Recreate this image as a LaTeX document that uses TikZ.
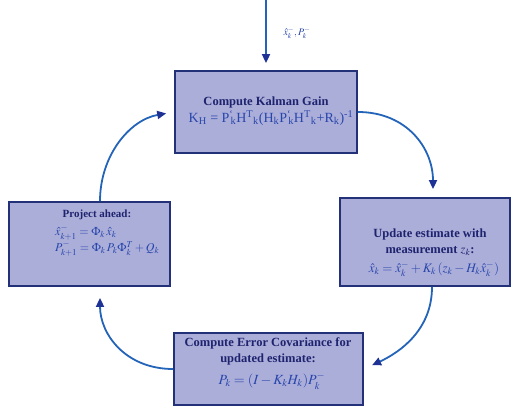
\documentclass[tikz,border=0pt]{standalone}
\usepackage{mathptmx}
\usepackage{fontspec}
\setmainfont{Liberation Serif}
\usetikzlibrary{arrows.meta}
\definecolor{boxfill}{RGB}{172,174,218}
\definecolor{boxline}{RGB}{35,50,120}
\definecolor{titlecol}{RGB}{30,35,110}
\definecolor{formcol}{RGB}{40,70,170}
\definecolor{arrcol}{RGB}{35,100,185}
\definecolor{tipcol}{RGB}{30,50,150}
\tikzset{
  stagebox/.style={draw=boxline, fill=boxfill, line width=1.8pt, inner sep=0pt},
  txt/.style={inner sep=0pt, align=center, text=titlecol, font=\fontsize{12.5}{16}\selectfont\bfseries},
  frm/.style={inner sep=0pt, text=formcol, font=\fontsize{12}{14}\selectfont},
  flow/.style={draw=arrcol, line width=1.8pt, -{Triangle[length=9pt,width=8pt,fill=tipcol,color=tipcol]}, shorten >=7pt}
}
\begin{document}
\begin{tikzpicture}[x=1pt,y=-1pt]
\useasboundingbox (0,0) rectangle (513,410);
% boxes
\node[stagebox, minimum width=182pt, minimum height=82pt] (top) at (266,112) {};
\node[stagebox, minimum width=161pt, minimum height=84pt] (left) at (89.5,244) {};
\node[stagebox, minimum width=170pt, minimum height=88pt] (right) at (425,242) {};
\node[stagebox, minimum width=189pt, minimum height=72pt] (bottom) at (268.5,369) {};
% top text
\node[txt] (toptitle) at (266,102) {Compute Kalman Gain};
\node[frm, font=\fontsize{14}{16}\selectfont] (topform) at (271,118) {K\textsubscript{H} = P\textsuperscript{`}\kern-0.2em\textsubscript{k}H\textsuperscript{T}\textsubscript{k}(H\textsubscript{k}P\textsuperscript{`}\kern-0.2em\textsubscript{k}H\textsuperscript{T}\textsubscript{k}+R\textsubscript{k})\textsuperscript{-1}};
% left text
\node[txt, font=\fontsize{11}{13}\selectfont\bfseries] (lefttitle) at (97,215) {Project ahead:};
\node[frm, anchor=west] (leftf1) at (55,233) {$\hat{x}^-_{k+1} = \Phi_k\,\hat{x}_k$};
\node[frm, anchor=west] (leftf2) at (55,249) {$P^-_{k+1} = \Phi_k\,P_k\Phi^T_k + Q_k$};
% right text
\node[txt] (righttitle) at (430,242.5) {Update estimate with\\measurement $z_k$:};
\node[frm, font=\fontsize{13}{15}\selectfont] (rightform) at (434,269) {$\hat{x}_k = \hat{x}^-_k + K_k\,(z_k - H_k\hat{x}^-_k)$};
% bottom text
\node[txt] (bottomtitle) at (268,351) {Compute Error Covariance for\\updated estimate:};
\node[frm, font=\fontsize{14}{16}\selectfont] (bottomform) at (272,381) {$P_k = (I - K_k H_k)P^-_k$};
% input arrow
\coordinate (in) at (266,0);
\draw[flow] (in) -- (top.north);
\node[frm, font=\fontsize{10}{12}\selectfont] (inlabel) at (297,33) {$\hat{x}^-_k, P^-_k$};
% cycle arrows
\draw[flow, shorten >=8pt] (top.east) to[out=0, in=90, looseness=1.1] ([xshift=8pt]right.north);
\draw[flow, shorten >=9pt] ([xshift=7pt]right.south) to[out=-90, in=25, looseness=1] (bottom.east);
\draw[flow, shorten >=11pt] (bottom.west) to[out=180, in=-90, looseness=1.1] ([xshift=10.5pt]left.south);
\draw[flow, shorten >=8pt] ([xshift=10.5pt]left.north) to[out=90, in=190, looseness=1] (top.west);
\end{tikzpicture}
\end{document}
